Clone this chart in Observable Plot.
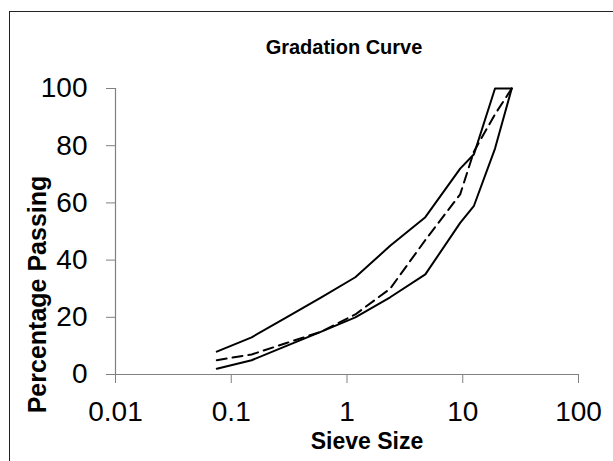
<!DOCTYPE html>
<html>
<head>
<meta charset="utf-8">
<script src="https://cdn.jsdelivr.net/npm/d3@7"></script>
<script src="https://cdn.jsdelivr.net/npm/@observablehq/plot@0.6"></script>
<style>
  html, body { margin: 0; padding: 0; background: #fff; }
  #wrap { position: relative; width: 613px; height: 461px; overflow: hidden; }
  #border { position: absolute; left: 9px; top: 11px; width: 700px; height: 600px; border: 1.5px solid #222; }
  #chart { position: absolute; left: 0; top: 0; }
</style>
</head>
<body>
<div id="wrap"><div id="border"></div><div id="chart"></div></div>
<script>
const sieveSizes = [0.075, 0.15, 0.3, 0.6, 1.18, 2.36, 4.75, 9.5, 12.5, 19, 26.5];
const upperLimit = [8, 13, 20, 27, 34, 45, 55, 72, 77, 100, 100];
const lowerLimit = [2, 5, 10, 15, 20, 27, 35, 53, 59, 79, 100];
const gradation = [5, 7, 11, 15, 21, 30, 47, 63, 78, 91, 100];
const xTicks = [0.01, 0.1, 1, 10, 100];
const yTicks = [0, 20, 40, 60, 80, 100];
const titleText = "Gradation Curve";
const xLabel = "Sieve Size";
const yLabel = "Percentage Passing";

const rows = (ys) => sieveSizes.map((s, i) => ({size: s, pct: ys[i]}));
const font = "Liberation Sans, Arial, sans-serif";

const chart = Plot.plot({
  width: 613,
  height: 461,
  marginLeft: 115,
  marginRight: 35,
  marginTop: 88,
  marginBottom: 87,
  style: {fontFamily: font, background: "transparent", overflow: "visible"},
  x: {type: "log", domain: [0.01, 100]},
  y: {domain: [0, 100]},
  marks: [
    Plot.axisX({ticks: xTicks, tickFormat: d => String(d), tickSize: 9, tickPadding: 18, fontSize: 28, label: null, stroke: "#808080", color: "#000"}),
    Plot.axisY({ticks: yTicks, tickSize: 9, tickPadding: 19, fontSize: 28, label: null, stroke: "#808080", color: "#000"}),
    Plot.ruleY([0], {stroke: "#808080", strokeWidth: 1.2}),
    Plot.ruleX([0.01], {stroke: "#808080", strokeWidth: 1.2}),
    Plot.line(rows(upperLimit), {x: "size", y: "pct", stroke: "#000", strokeWidth: 2}),
    Plot.line(rows(lowerLimit), {x: "size", y: "pct", stroke: "#000", strokeWidth: 2}),
    Plot.line(rows(gradation), {x: "size", y: "pct", stroke: "#000", strokeWidth: 2, strokeDasharray: "10,6"}),
    Plot.text([titleText], {frameAnchor: "top", dx: -3, dy: -41, lineAnchor: "middle", fontSize: 20, fontWeight: "bold", fill: "#000"}),
    Plot.text([xLabel], {frameAnchor: "bottom", dx: 20, dy: 67, lineAnchor: "middle", fontSize: 23, fontWeight: "bold", fill: "#000"}),
    Plot.text([yLabel], {frameAnchor: "left", dx: -78, dy: 63, rotate: -90, lineAnchor: "middle", textAnchor: "middle", fontSize: 25, fontWeight: "bold", fill: "#000"})
  ]
});
document.getElementById("chart").appendChild(chart);
</script>
</body>
</html>
